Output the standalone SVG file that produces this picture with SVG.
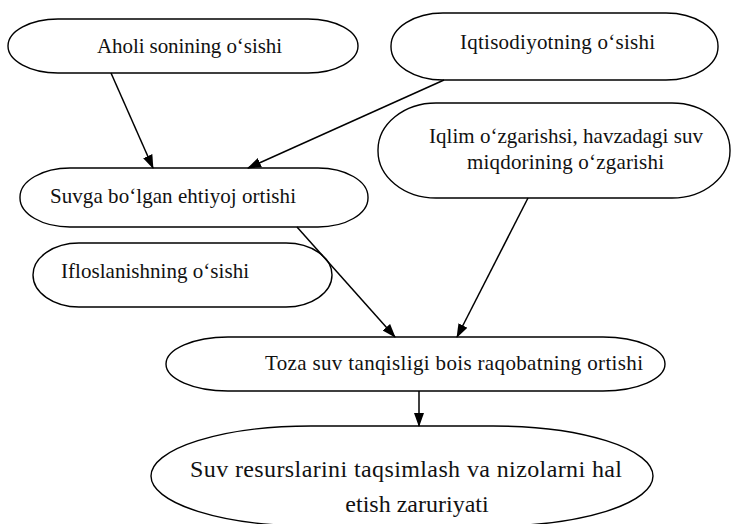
<svg xmlns="http://www.w3.org/2000/svg" width="731" height="524" viewBox="0 0 731 524">
<style>
.n{fill:#fff;stroke:#000;stroke-width:1.4}
.t{font-family:"Liberation Serif","Times New Roman",serif;font-size:21px;fill:#111}
.b{font-size:24px}
.c{stroke:#000;stroke-width:1.5;fill:none;marker-end:url(#ah)}
</style>
<defs>
<marker id="ah" markerUnits="userSpaceOnUse" markerWidth="14" markerHeight="12" refX="13" refY="5" orient="auto" viewBox="0 0 14 10">
<path d="M0,0 L14,5 L0,10 Z" fill="#000"/>
</marker>
</defs>
<rect width="731" height="524" fill="#fff"/>
<g id="n1"><rect class="n" x="8" y="19" width="350" height="54" rx="50" ry="27"/><text class="t" x="97" y="53" textLength="185">Aholi sonining o‘sishi</text></g>
<g id="n2"><rect class="n" x="391" y="13" width="327" height="67" rx="52" ry="33"/><text class="t" x="460" y="49" textLength="195">Iqtisodiyotning o‘sishi</text></g>
<g id="n3"><rect class="n" x="378" y="103" width="352" height="95" rx="58" ry="47"/><text class="t" x="429" y="143" textLength="274">Iqlim o‘zgarishsi, havzadagi suv</text><text class="t" x="467" y="169" textLength="197">miqdorining o‘zgarishi</text></g>
<g id="n4"><rect class="n" x="20" y="168" width="348" height="59" rx="50" ry="29"/><text class="t" x="50" y="203" textLength="246">Suvga bo‘lgan ehtiyoj ortishi</text></g>
<g id="n5"><rect class="n" x="33" y="243" width="299" height="64" rx="46" ry="32"/><text class="t" x="61" y="278" textLength="188">Ifloslanishning o‘sishi</text></g>
<g id="n6"><rect class="n" x="166" y="337" width="499" height="54" rx="62" ry="27"/><text class="t" x="265" y="370" textLength="378">Toza suv tanqisligi bois raqobatning ortishi</text></g>
<g id="n7"><rect class="n" x="151" y="426" width="502" height="100" rx="160" ry="50"/><text class="t b" x="190" y="477" textLength="432">Suv resurslarini taqsimlash va nizolarni hal</text><text class="t b" x="417" y="512" text-anchor="middle">etish zaruriyati</text></g>
<g id="connectors">
<line class="c" x1="111" y1="73" x2="153" y2="168"/>
<line class="c" x1="444" y1="80" x2="248" y2="168"/>
<line class="c" x1="528" y1="198" x2="457" y2="337"/>
<line class="c" x1="297" y1="227" x2="395" y2="337"/>
<line class="c" x1="419" y1="391" x2="419" y2="426"/>
</g>
</svg>
